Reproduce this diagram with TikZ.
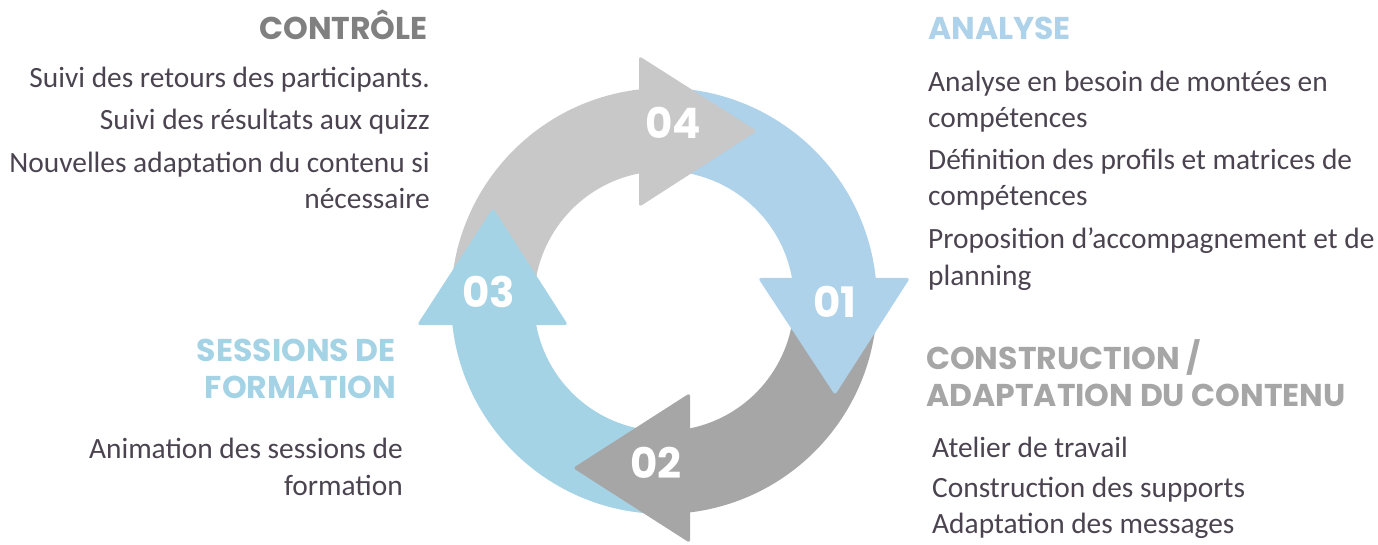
\documentclass[tikz,border=0pt]{standalone}
\usepackage{fontspec}
\setmainfont{Carlito}
\newfontfamily\headfont{Poppins}
\usetikzlibrary{calc}

\definecolor{blueone}{HTML}{AED2EA}
\definecolor{bluethree}{HTML}{A4D3E6}
\definecolor{greytwo}{HTML}{A6A6A6}
\definecolor{greyfour}{HTML}{C8C8C8}
\definecolor{headgrey}{HTML}{808080}
\definecolor{bodytext}{HTML}{4B4450}

\tikzset{
    heading/.style={font=\headfont\bfseries\fontsize{31.5}{36.5}\selectfont, inner sep=0pt},
    item/.style={font=\fontsize{29.4}{36.5}\selectfont, text=bodytext, inner sep=0pt},
    number/.style={font=\headfont\bfseries\fontsize{42}{42}\selectfont, text=white, inner sep=0pt},
    tip/.style={rounded corners=3pt},
}

\begin{document}
\begin{tikzpicture}[x=1pt,y=-1pt]
        \useasboundingbox (0,0) rectangle (1378,545);
        \coordinate (C) at (664,301);

        % bodies of the ring
        \fill[blueone] ($(C)+(-95:213)$) arc[start angle=-95, end angle=-6.2, radius=213]
            -- ($(C)+(-10.2:130)$) arc[start angle=-10.2, end angle=-95, radius=130] -- cycle;
        \fill[greytwo] ($(C)+(0:213)$) arc[start angle=0, end angle=83, radius=213]
            -- ($(C)+(78.5:130)$) arc[start angle=78.5, end angle=0, radius=130] -- cycle;
        \fill[bluethree] ($(C)+(90:213)$) arc[start angle=90, end angle=173.5, radius=213]
            -- ($(C)+(169.4:130)$) arc[start angle=169.4, end angle=90, radius=130] -- cycle;
        \fill[greyfour] ($(C)+(180:213)$) arc[start angle=180, end angle=263.3, radius=213]
            -- ($(C)+(258.9:130)$) arc[start angle=258.9, end angle=180, radius=130] -- cycle;

        % heads
        \fill[blueone,tip] (758,278) -- (910,278) -- (835,395) -- cycle;
        \fill[greytwo,tip] (690,393) -- (690,543) -- (573,468) -- cycle;
        \fill[bluethree,tip] (568,325) -- (417,325) -- (493,208) -- cycle;
        \fill[greyfour,tip] (639,207) -- (639,56) -- (757,131) -- cycle;

        \node[number] (n1) at (835,302) {01};
        \node[number] (n2) at (656,463) {02};
        \node[number] (n3) at (489,292) {03};
        \node[number] (n4) at (673,123) {04};

        % Controle
        \node[heading,text=headgrey,anchor=base east] (ctrl) at (428,40) {CONTRÔLE};
        \node[item,anchor=base east] (c1) at (430,88) {Suivi des retours des participants.};
        \node[item,anchor=base east] (c2) at (430,130) {Suivi des résultats aux quizz};
        \node[item,anchor=base east,align=right] (c3) at (430,209) {Nouvelles adaptation du contenu si\\nécessaire};

        % Analyse
        \node[heading,text=blueone,anchor=base west] (ana) at (928,40) {ANALYSE};
        \node[item,anchor=base west,align=left] (a1) at (928,128) {Analyse en besoin de montées en\\compétences};
        \node[item,anchor=base west,align=left] (a2) at (928,206) {Définition des profils et matrices de\\compétences};
        \node[item,anchor=base west,align=left] (a3) at (928,285) {Proposition d’accompagnement et de\\planning};

        % Construction
        \node[heading,text=greytwo,anchor=base west,align=left] (cons) at (926,406) {CONSTRUCTION /\\ADAPTATION DU CONTENU};
        \node[item,anchor=base west] (b1) at (932,457) {Atelier de travail};
        \node[item,anchor=base west] (b2) at (932,497) {Construction des supports};
        \node[item,anchor=base west] (b3) at (932,533) {Adaptation des messages};

        % Sessions
        \node[heading,text=bluethree,anchor=base east,align=right] (sess) at (396,398) {SESSIONS DE\\FORMATION};
        \node[item,anchor=base east,align=right] (s1) at (403,495) {Animation des sessions de\\formation};
\end{tikzpicture}
\end{document}
